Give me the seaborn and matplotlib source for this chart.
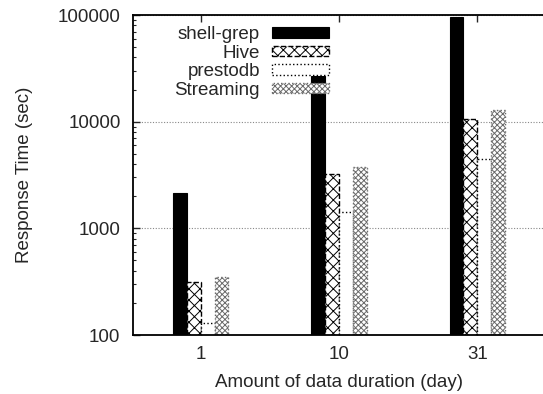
import matplotlib
matplotlib.use("Agg")
import matplotlib.pyplot as plt
import seaborn as sns
import pandas as pd
from matplotlib.ticker import LogLocator, FixedLocator

days = ["1", "10", "31"]
systems = ["shell-grep", "Hive", "prestodb", "Streaming"]
shell_grep = [2140, 26700, 94800]
hive = [314, 3210, 10570]
prestodb = [130, 1413, 4490]
streaming = [347, 3760, 12760]

rows = []
for name, vals in zip(systems, [shell_grep, hive, prestodb, streaming]):
    for d, v in zip(days, vals):
        rows.append({"day": d, "system": name, "time": v})
df = pd.DataFrame(rows)

sns.set_style("ticks")
plt.rcParams["font.family"] = ["Liberation Sans", "DejaVu Sans"]
plt.rcParams["hatch.linewidth"] = 0.7

FS = 13.5

fig = plt.figure(figsize=(5.43, 3.94), dpi=100)
ax = fig.add_axes([133 / 543, 59 / 394, 412 / 543, 320 / 394])

sns.barplot(data=df, x="day", y="time", hue="system", order=days,
            hue_order=systems, width=0.4, gap=0, ax=ax, legend=False,
            errorbar=None, saturation=1)
ax.set_yscale("log")
ax.set_ylim(100, 100000)
ax.set_xlim(-0.49, 2.49)

styles = [
    dict(facecolor="black", edgecolor="black", hatch=None, linestyle="-", lw=0.8),
    dict(facecolor="white", edgecolor="black", hatch="xxx", linestyle="--", lw=1.0),
    dict(facecolor="white", edgecolor="black", hatch=None, linestyle=":", lw=1.0),
    dict(facecolor="white", edgecolor="#6a6a6a", hatch="xxxxxx", linestyle=":", lw=1.0),
]
for cont, st in zip(ax.containers, styles):
    for p in cont.patches:
        p.set_facecolor(st["facecolor"])
        p.set_edgecolor(st["edgecolor"])
        p.set_hatch(st["hatch"])
        p.set_linestyle(st["linestyle"])
        p.set_linewidth(st["lw"])

ax.set_axisbelow(True)
ax.yaxis.grid(True, which="major", linestyle=(0, (1, 1.5)), color="#888888", lw=0.8)
ax.xaxis.grid(False)

ax.yaxis.set_major_locator(FixedLocator([100, 1000, 10000, 100000]))
ax.set_yticklabels(["100", "1000", "10000", "100000"])
ax.yaxis.set_minor_locator(LogLocator(base=10, subs=range(2, 10)))
ax.tick_params(axis="y", which="major", direction="in", length=5, width=1,
               left=True, right=False, labelsize=FS, pad=9)
ax.tick_params(axis="y", which="minor", direction="in", length=2.5, width=0.8,
               left=True, right=False)
ax.tick_params(axis="x", which="major", direction="in", length=5, width=1,
               top=True, bottom=True, labelsize=FS, pad=8)

for s in ["left", "top", "bottom"]:
    ax.spines[s].set_linewidth(1.3)
    ax.spines[s].set_color("black")
ax.spines["right"].set_visible(False)

ax.set_xlabel("Amount of data duration (day)", fontsize=FS, labelpad=8)
ax.set_ylabel("Response Time (sec)", fontsize=FS, labelpad=18)

leg = ax.legend(handles=ax.containers, labels=systems, loc="upper right",
                bbox_to_anchor=(0.4756, 0.965), frameon=False, markerfirst=False,
                fontsize=FS, handlelength=3.04, handleheight=0.48,
                labelspacing=0.08, handletextpad=0.64, borderpad=0,
                borderaxespad=0)
for t in leg.get_texts():
    t.set_ha("right")

fig.savefig("out.png", dpi=100)
